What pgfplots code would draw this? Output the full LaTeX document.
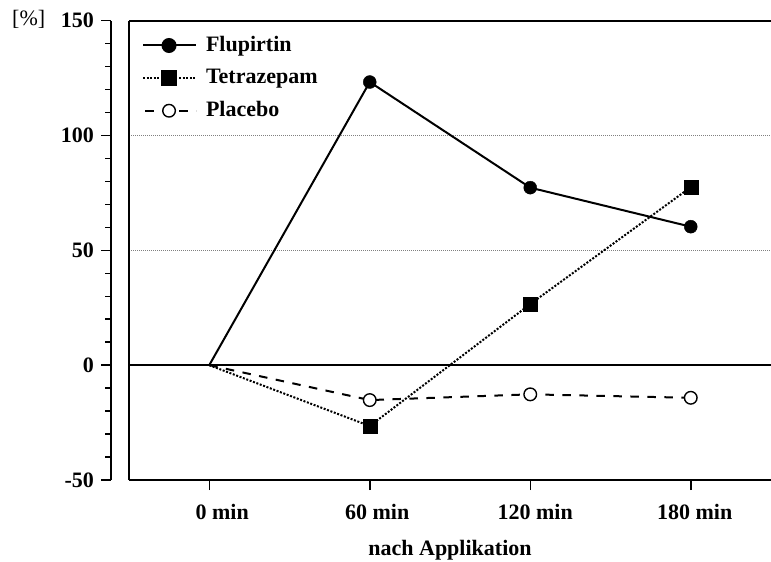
\documentclass[border=0pt]{standalone}
\usepackage{fontspec}
\setmainfont{Liberation Serif}
\usepackage{pgfplots}
\pgfplotsset{compat=1.18}
\begin{document}
\fontsize{22bp}{26bp}\selectfont
\begin{tikzpicture}
\path[use as bounding box] (-129bp,-82bp) rectangle (642bp,480bp);
\begin{axis}[
  at={(0,0)}, anchor=south west, scale only axis,
  width=642bp, height=459.3bp,
  xmin=-0.5, xmax=3.5, ymin=-50, ymax=150,
  axis x line*=box, axis y line*=left,
  axis line style={line width=1.8bp, -},
  xtick={0,1,2,3},
  xticklabels={\hspace*{26bp}0 min,\hspace*{15bp}60 min,\hspace*{10bp}120 min,\hspace*{8bp}180 min},
  xtick pos=bottom, xtick align=outside,
  xtick style={line width=1.5bp, black},
  major tick length=10bp,
  ytick={0,50,100}, yticklabels={}, ytick style={draw=none},
  ymajorgrids, grid style={gray, line width=0.8bp, dash pattern=on 1bp off 1bp},
  xticklabel style={font=\bfseries, yshift=-7bp},
  xlabel={nach Applikation}, xlabel style={font=\bfseries, yshift=-5bp},
  legend style={draw=none, fill=none, at={(0.02,0.971)}, anchor=north west,
    inner sep=0pt, row sep=10.5bp, font=\bfseries},
  legend cell align=left,
  legend image code/.code={
    \draw[mark repeat=2, mark phase=2, #1] plot coordinates {(0bp,0bp) (26bp,0bp) (53bp,0bp)};
    \path (60bp,0bp);
  },
]
\addplot[black, line width=2bp, forget plot] coordinates {(-0.5,0) (3.5,0)};
% lines
\addplot[black, line width=2bp, forget plot] coordinates {(0,0) (1,123.3) (2,77.3) (3,60.3)};
\addplot[black, line width=2bp, dash pattern=on 2bp off 1.6bp, forget plot] coordinates {(0,0) (1,-26.5) (2,26.6) (3,77.5)};
\addplot[black, line width=2bp, dash pattern=on 8.5bp off 8.5bp, forget plot] coordinates {(0,0) (1,-15.2) (2,-12.7) (3,-14.2)};
% marks
\addplot[black, only marks, mark=*, mark size=6.5bp, forget plot] coordinates {(1,123.3) (2,77.3) (3,60.3)};
\addplot[black, only marks, mark=square*, mark size=7bp, forget plot] coordinates {(1,-26.5) (2,26.6) (3,77.5)};
\addplot[black, only marks, mark=*, mark size=6.3bp, mark options={fill=white, draw=black, line width=1.4bp}, forget plot] coordinates {(1,-15.2) (2,-12.7) (3,-14.2)};
\addlegendimage{black, line width=2bp, mark=*, mark size=6.5bp}
\addlegendentry{Flupirtin}
\addlegendimage{black, line width=2bp, dash pattern=on 2bp off 1.6bp, mark=square*, mark size=7bp, mark options={solid}}
\addlegendentry{Tetrazepam}
\addlegendimage{black, line width=2bp, dash pattern=on 8.5bp off 8.5bp, dash phase=-2bp, mark=*, mark size=6.3bp, mark options={solid, fill=white, draw=black, line width=1.4bp}}
\addlegendentry{Placebo}
\end{axis}
\begin{axis}[
  at={(-18bp,0)}, anchor=south west, scale only axis,
  width=1bp, height=459.3bp,
  xmin=0, xmax=1, ymin=-50, ymax=150,
  axis y line*=left, axis x line=none,
  axis line style={line width=1.8bp, -},
  ytick={-50,0,50,100,150}, minor y tick num=4,
  ytick align=outside, ytick pos=left,
  major tick length=9.5bp, minor tick length=5.5bp,
  every tick/.style={line width=1.5bp, black},
  yticklabel style={font=\bfseries},
  /pgf/number format/assume math mode=true,
]
\end{axis}
\node[anchor=west, inner sep=0pt, font=\fontsize{22bp}{26bp}\selectfont] at (-117bp,461bp) {[\%]};
\end{tikzpicture}
\end{document}
